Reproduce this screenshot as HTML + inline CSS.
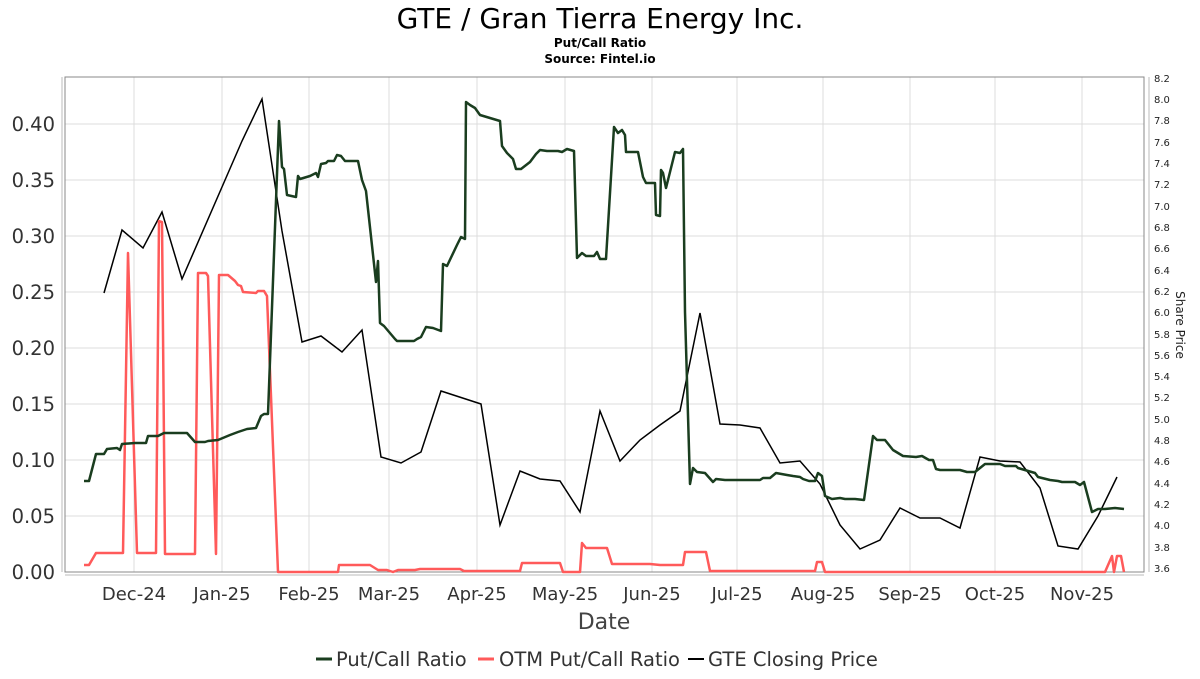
<!DOCTYPE html>
<html><head><meta charset="utf-8"><style>
body{margin:0;background:#fff;font-family:"DejaVu Sans","Liberation Sans",sans-serif}
</style></head><body>
<svg width="1200" height="675" viewBox="0 0 1200 675" xmlns="http://www.w3.org/2000/svg" font-family="DejaVu Sans, Liberation Sans, sans-serif">
<rect width="1200" height="675" fill="#fff"/>
<text x="600" y="28" text-anchor="middle" font-size="28" fill="#000">GTE / Gran Tierra Energy Inc.</text>
<text x="600" y="47" text-anchor="middle" font-size="12" font-weight="bold" fill="#000">Put/Call Ratio</text>
<text x="600" y="63" text-anchor="middle" font-size="12" font-weight="bold" fill="#000">Source: Fintel.io</text>
<g stroke="#dcdcdc" stroke-width="1">
<line x1="65" x2="1144" y1="516" y2="516"/><line x1="65" x2="1144" y1="460" y2="460"/><line x1="65" x2="1144" y1="404" y2="404"/><line x1="65" x2="1144" y1="348" y2="348"/><line x1="65" x2="1144" y1="292" y2="292"/><line x1="65" x2="1144" y1="236" y2="236"/><line x1="65" x2="1144" y1="180" y2="180"/><line x1="65" x2="1144" y1="124" y2="124"/>
<line y1="77" y2="572" x1="134" x2="134"/><line y1="77" y2="572" x1="222" x2="222"/><line y1="77" y2="572" x1="309" x2="309"/><line y1="77" y2="572" x1="389" x2="389"/><line y1="77" y2="572" x1="477" x2="477"/><line y1="77" y2="572" x1="565" x2="565"/><line y1="77" y2="572" x1="652" x2="652"/><line y1="77" y2="572" x1="737" x2="737"/><line y1="77" y2="572" x1="823" x2="823"/><line y1="77" y2="572" x1="910" x2="910"/><line y1="77" y2="572" x1="995" x2="995"/><line y1="77" y2="572" x1="1082" x2="1082"/>
</g>
<rect x="65" y="77" width="1079" height="495" fill="none" stroke="#888"/>
<line x1="62" y1="77" x2="62" y2="572" stroke="#bbb"/>
<line x1="1149" y1="77" x2="1149" y2="572" stroke="#bbb"/>
<line x1="65" y1="575" x2="1144" y2="575" stroke="#bbb"/>
<g font-size="19.5" fill="#333" text-anchor="end">
<text x="55" y="579">0.00</text><text x="55" y="523">0.05</text><text x="55" y="467">0.10</text><text x="55" y="411">0.15</text><text x="55" y="355">0.20</text><text x="55" y="299">0.25</text><text x="55" y="243">0.30</text><text x="55" y="187">0.35</text><text x="55" y="131">0.40</text>
</g>
<g font-size="10" fill="#222">
<text x="1154" y="572">3.6</text><text x="1154" y="551">3.8</text><text x="1154" y="529">4.0</text><text x="1154" y="508">4.2</text><text x="1154" y="487">4.4</text><text x="1154" y="465">4.6</text><text x="1154" y="444">4.8</text><text x="1154" y="423">5.0</text><text x="1154" y="401">5.2</text><text x="1154" y="380">5.4</text><text x="1154" y="359">5.6</text><text x="1154" y="338">5.8</text><text x="1154" y="316">6.0</text><text x="1154" y="295">6.2</text><text x="1154" y="274">6.4</text><text x="1154" y="252">6.6</text><text x="1154" y="231">6.8</text><text x="1154" y="210">7.0</text><text x="1154" y="188">7.2</text><text x="1154" y="167">7.4</text><text x="1154" y="146">7.6</text><text x="1154" y="124">7.8</text><text x="1154" y="103">8.0</text><text x="1154" y="82">8.2</text>
</g>
<text transform="translate(1176,325) rotate(90)" text-anchor="middle" font-size="12" fill="#222">Share Price</text>
<g font-size="18" fill="#333" text-anchor="middle">
<text x="134" y="600">Dec-24</text><text x="222" y="600">Jan-25</text><text x="309" y="600">Feb-25</text><text x="389" y="600">Mar-25</text><text x="477" y="600">Apr-25</text><text x="565" y="600">May-25</text><text x="652" y="600">Jun-25</text><text x="737" y="600">Jul-25</text><text x="823" y="600">Aug-25</text><text x="910" y="600">Sep-25</text><text x="995" y="600">Oct-25</text><text x="1082" y="600">Nov-25</text>
</g>
<text x="604" y="629" text-anchor="middle" font-size="22" fill="#444">Date</text>
<polyline fill="none" stroke="#000" stroke-width="1.5" points="104,293 122,230 143,248 162,212 182,279 242,141 262,99 282,231 302,342 321,336 342,352 362,330 381,457 401,463 421,452 441,391 481,404 500,525 520,471 540,479 560,481 580,512 600,411 620,461 640,440 660,425 680,411 700,313 720,424 740,425 760,428 780,463 800,461 820,484 840,525 860,549 880,540 900,508 920,518 940,518 960,528 980,457 1000,461 1020,462 1040,488 1058,546 1078,549 1098,516 1117,477"/>
<polyline fill="none" stroke="#ff5a5a" stroke-width="2.5" stroke-linejoin="round" points="84,565 89,565 96,553 123,553 128,253 137,553 156,553 159,221 162,222 165,554 195,554 198,273 206,273 208,276 216,554 219,275 228,275 235,281 238,285 241,286 243,292 256,293 258,291 264,291 267,296 278,572 338,572 339,565 370,565 378,570 387,570 393,572 398,570 415,570 420,569 460,569 464,571 520,571 522,563 560,563 563,572 580,572 582,543 586,548 607,548 612,564 650,564 660,565 683,565 685,552 706,552 710,571 815,571 817,562 822,562 825,572 1105,572 1112,556 1114,572 1117,556 1121,556 1124,572"/>
<polyline fill="none" stroke="#1a3d1f" stroke-width="2.5" stroke-linejoin="round" points="84,481 89,481 96,454 99,454 104,454 107,449 117,448 120,450 122,444 135,443 146,443 148,436 158,436 164,433 187,433 195,442 205,442 208,441 218,440 230,435 238,432 247,429 256,428 261,416 264,414 268,414 279,121 282,167 284,169 287,195 296,197 298,176 300,179 310,176 316,173 318,177 321,164 326,163 328,161 334,161 337,155 341,156 345,161 358,161 362,180 366,191 376,282 378,261 380,323 384,326 395,339 397,341 403,341 414,341 417,339 421,337 426,327 433,328 441,331 443,264 447,266 457,245 461,237 465,239 466,102 470,105 475,108 480,115 490,118 500,121 502,146 507,153 513,159 516,169 521,169 530,162 536,154 540,150 547,151 558,151 562,152 567,149 574,151 577,258 582,253 586,256 594,256 597,252 600,259 606,259 614,127 618,133 622,130 625,135 626,152 638,152 643,177 646,183 655,183 656,215 660,216 661,170 663,173 666,188 675,152 680,153 683,149 685,312 690,484 693,468 697,472 705,473 713,482 716,479 725,480 760,480 763,478 770,478 776,473 787,475 793,476 800,477 803,479 809,481 815,481 818,473 822,476 825,496 832,499 840,498 845,499 855,499 864,500 873,436 877,440 885,440 893,450 903,456 916,457 922,456 929,460 933,460 936,469 940,470 960,470 967,472 975,472 985,464 1000,464 1005,466 1016,466 1018,468 1035,473 1038,477 1050,480 1058,481 1062,482 1075,482 1080,485 1084,482 1092,512 1098,509 1105,509 1115,508 1124,509"/>
<g font-size="19.5" fill="#333">
<line x1="316" y1="659" x2="332" y2="659" stroke="#1a3d1f" stroke-width="3"/><text x="336" y="666">Put/Call Ratio</text>
<line x1="478" y1="659" x2="494" y2="659" stroke="#ff5a5a" stroke-width="3"/><text x="499" y="666">OTM Put/Call Ratio</text>
<line x1="688" y1="659" x2="704" y2="659" stroke="#000" stroke-width="2"/><text x="708" y="666">GTE Closing Price</text>
</g>
</svg>
</body></html>
